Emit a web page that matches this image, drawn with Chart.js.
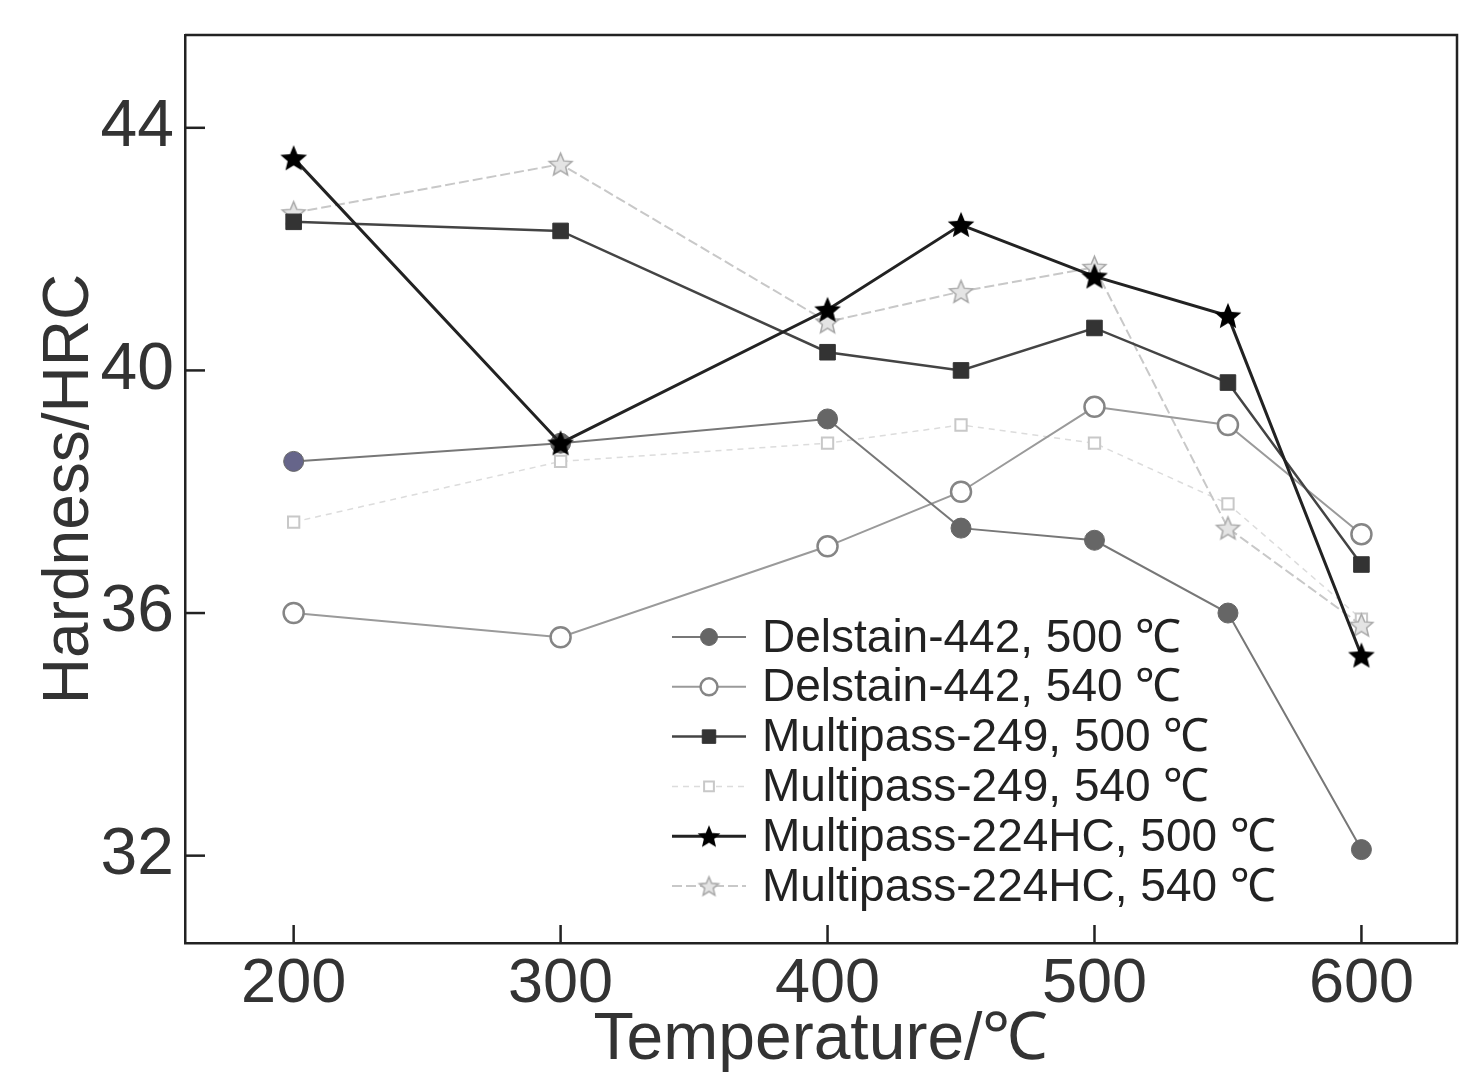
<!DOCTYPE html>
<html>
<head>
<meta charset="utf-8">
<script src="https://cdn.jsdelivr.net/npm/chart.js@4.4.0/dist/chart.umd.min.js"></script>
<style>
html,body{margin:0;padding:0;background:#fff;overflow:hidden}
canvas{display:block}
</style>
</head>
<body>
<canvas id="c" width="1459" height="1072"></canvas>
<script>
const temps = [200,300,400,450,500,550,600];
const delstain500 = [38.5,38.8,39.2,37.4,37.2,36.0,32.1];
const delstain540 = [36.0,35.6,37.1,38.0,39.4,39.1,37.3];
const mp249_500 = [42.45,42.3,40.3,40.0,40.7,39.8,36.8];
const mp249_540 = [37.5,38.5,38.8,39.1,38.8,37.8,35.9];
const mp224_500 = [43.5,38.8,41.0,42.4,41.55,40.9,35.3];
const mp224_540 = [42.6,43.4,40.8,41.3,41.7,37.4,35.8];
const xTicks = [200,300,400,500,600];
const yTicks = [32,36,40,44];
const labels = ['Delstain-442, 500 ℃','Delstain-442, 540 ℃','Multipass-249, 500 ℃','Multipass-249, 540 ℃','Multipass-224HC, 500 ℃','Multipass-224HC, 540 ℃'];

const FONT = "'Liberation Sans', Arial, sans-serif";

// five pointed star drawn once, used as point image
function makeStar(r, fill, stroke, lw){
  lw = lw || 0;
  const s = Math.ceil(r*2+lw*2+4);
  const cv = document.createElement('canvas');
  cv.width = s; cv.height = s;
  const ctx = cv.getContext('2d');
  ctx.translate(s/2, s/2+1);
  ctx.beginPath();
  for(let i=0;i<10;i++){
    const rr = i%2===0 ? r : r*0.45;
    const a = -Math.PI/2 + i*Math.PI/5;
    const x = rr*Math.cos(a), y = rr*Math.sin(a);
    i===0 ? ctx.moveTo(x,y) : ctx.lineTo(x,y);
  }
  ctx.closePath();
  ctx.fillStyle = fill; ctx.fill();
  if(stroke){ ctx.strokeStyle = stroke; ctx.lineWidth = lw; ctx.stroke(); }
  return cv;
}
const starBlack = makeStar(14,'#000');
const starGray = makeStar(12,'#e4e4e4','#a8a8a8',1.5);
const starBlackSm = makeStar(12,'#000');
const starGraySm = makeStar(10,'#e4e4e4','#a8a8a8',1.5);

const pts = (arr)=>temps.map((t,i)=>({x:t,y:arr[i]}));

const datasets = [
  {label:labels[0], data:pts(delstain500), borderColor:'#777', borderWidth:2, pointStyle:'circle', pointRadius:10,
    pointBackgroundColor:['#66658a','#666','#666','#666','#666','#666','#666'], pointBorderColor:'#666', pointBorderWidth:1, order:2, legendStyle:'circle'},
  {label:labels[1], data:pts(delstain540), borderColor:'#9a9a9a', borderWidth:2, pointStyle:'circle', pointRadius:10,
    pointBackgroundColor:'#fff', pointBorderColor:'#858585', pointBorderWidth:2.5, order:3, legendStyle:'circle'},
  {label:labels[2], data:pts(mp249_500), borderColor:'#444', borderWidth:2.5, pointStyle:'rect', pointRadius:11,
    pointBackgroundColor:'#333', pointBorderColor:'#333', pointBorderWidth:1, order:1, legendStyle:'rect'},
  {label:labels[3], data:pts(mp249_540), borderColor:'#dcdcdc', borderWidth:1.5, borderDash:[6,5], pointStyle:'rect', pointRadius:8,
    pointBackgroundColor:'#fff', pointBorderColor:'#c8c8c8', pointBorderWidth:2, order:5, legendStyle:'rect'},
  {label:labels[4], data:pts(mp224_500), borderColor:'#222', borderWidth:3, pointStyle:starBlack, pointRadius:14,
    pointBackgroundColor:'#000', pointBorderColor:'#000', order:0, legendStyle:starBlackSm},
  {label:labels[5], data:pts(mp224_540), borderColor:'#c8c8c8', borderWidth:2, borderDash:[10,4], pointStyle:starGray, pointRadius:12,
    pointBackgroundColor:'#ddd', pointBorderColor:'#aaa', order:4, legendStyle:starGraySm}
];

// inward ticks, closed frame and the legend block
const decor = {
  id:'decor',
  afterDraw(chart){
    const {ctx, chartArea:a, scales:{x,y}} = chart;
    ctx.save();
    ctx.strokeStyle = '#222'; ctx.lineWidth = 2.5;
    ctx.beginPath();
    ctx.moveTo(a.left, a.top); ctx.lineTo(a.right, a.top); ctx.lineTo(a.right, a.bottom);
    ctx.stroke();
    yTicks.forEach(v=>{ const py = y.getPixelForValue(v); ctx.beginPath(); ctx.moveTo(a.left,py); ctx.lineTo(a.left+20,py); ctx.stroke(); });
    xTicks.forEach(v=>{ const px = x.getPixelForValue(v); ctx.beginPath(); ctx.moveTo(px,a.bottom); ctx.lineTo(px,a.bottom-18); ctx.stroke(); });

    const lx0 = 672, lx1 = 746, tx = 762, ly0 = 637, dy = 49.8;
    const cx = (lx0+lx1)/2;
    chart.data.datasets.forEach((ds,i)=>{
      const yy = ly0 + i*dy;
      ctx.save();
      ctx.strokeStyle = ds.borderColor; ctx.lineWidth = ds.borderWidth;
      ctx.setLineDash(ds.borderDash || []);
      ctx.beginPath(); ctx.moveTo(lx0,yy); ctx.lineTo(lx1,yy); ctx.stroke();
      ctx.restore();
      const bg = Array.isArray(ds.pointBackgroundColor) ? ds.pointBackgroundColor[1] : ds.pointBackgroundColor;
      ctx.fillStyle = bg; ctx.strokeStyle = ds.pointBorderColor; ctx.lineWidth = ds.pointBorderWidth||1;
      const st = ds.legendStyle;
      if(st === 'circle'){
        ctx.beginPath(); ctx.arc(cx, yy, 8.5, 0, Math.PI*2); ctx.fill(); ctx.stroke();
      } else if(st === 'rect'){
        const r = ds.pointRadius*0.85*0.72;
        ctx.beginPath(); ctx.rect(cx-r, yy-r, r*2, r*2); ctx.fill(); ctx.stroke();
      } else {
        ctx.drawImage(st, cx-st.width/2, yy-st.height/2);
      }
      ctx.fillStyle = '#222';
      ctx.font = '46px ' + FONT;
      ctx.textBaseline = 'middle';
      ctx.fillText(ds.label, tx, yy+2);
    });
    ctx.restore();
  }
};

const noPad = (s)=>{ s.paddingTop = 0; s.paddingBottom = 0; s.paddingLeft = 0; s.paddingRight = 0; };

new Chart(document.getElementById('c'), {
  type:'line',
  data:{datasets},
  options:{
    responsive:false,
    animation:false,
    devicePixelRatio:1,
    layout:{autoPadding:false, padding:{top:35, right:2, left:0, bottom:0}},
    plugins:{legend:{display:false}, tooltip:{enabled:false}},
    scales:{
      x:{
        type:'linear', min:159.3, max:635.8,
        afterBuildTicks:(s)=>{ s.ticks = xTicks.map(v=>({value:v})); },
        afterFit:(s)=>{ s.height = 129; noPad(s); },
        grid:{display:false},
        border:{display:true, color:'#222', width:2.5},
        ticks:{color:'#333', font:{family:FONT, size:63}, padding:-4, maxRotation:0},
        title:{display:true, text:'Temperature/℃', color:'#333', font:{family:FONT, size:66, lineHeight:1.0}, padding:{top:0,bottom:-2}}
      },
      y:{
        min:30.56, max:45.53,
        afterBuildTicks:(s)=>{ s.ticks = yTicks.map(v=>({value:v})); },
        afterFit:(s)=>{ s.width = 185; noPad(s); },
        grid:{display:false},
        border:{display:true, color:'#222', width:2.5},
        ticks:{color:'#333', font:{family:FONT, size:66}, padding:3},
        title:{display:true, text:'Hardness/HRC', color:'#333', font:{family:FONT, size:64, lineHeight:1.0}, padding:{top:38,bottom:0}}
      }
    }
  },
  plugins:[decor]
});
</script>
</body>
</html>
